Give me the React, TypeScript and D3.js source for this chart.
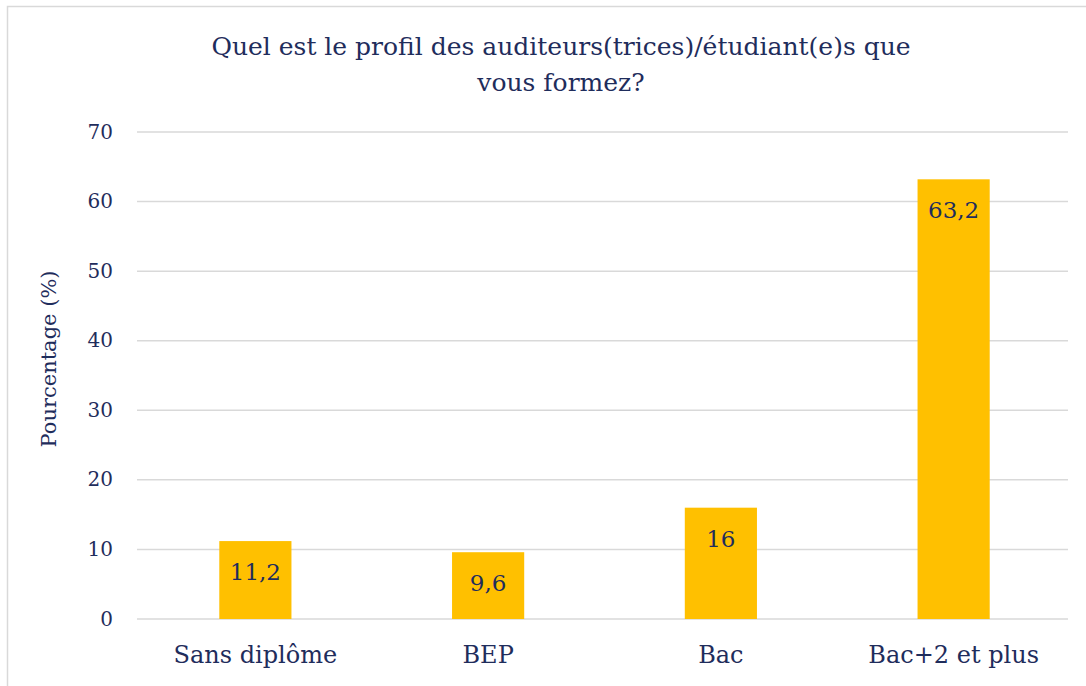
import * as d3 from "d3";
import { useEffect, useRef } from "react";

const categories = ["Sans diplôme", "BEP", "Bac", "Bac+2 et plus"];
const values = [11.2, 9.6, 16, 63.2];
const valueLabels = ["11,2", "9,6", "16", "63,2"];
const yTicks = [0, 10, 20, 30, 40, 50, 60, 70];
const titleLines = ["Quel est le profil des auditeurs(trices)/étudiant(e)s que", "vous formez?"];
const yTitle = "Pourcentage (%)";

const W = 1086, H = 686;
const FONT = "'DejaVu Serif', 'Liberation Serif', serif";
const INK = "#1f2d5c";

const App = () => {
    const ref = useRef<SVGSVGElement>(null);

    useEffect(() => {
        const svg = d3.select(ref.current);
        svg.selectAll("*").remove();

        const margin = { left: 139, right: 16, top: 132, bottom: 67 };

        const x = d3.scaleBand()
            .domain(categories)
            .range([margin.left, W - margin.right])
            .paddingInner(0.69)
            .paddingOuter(0.345);

        const y = d3.scaleLinear()
            .domain([0, 70])
            .range([H - margin.bottom, margin.top]);

        // frame
        svg.append("rect")
            .attr("x", 7.5).attr("y", 6.5)
            .attr("width", W + 10).attr("height", H + 10)
            .attr("fill", "white")
            .attr("stroke", "#d9d9d9")
            .attr("stroke-width", 1.5);

        // gridlines
        svg.append("g")
            .selectAll("line")
            .data(yTicks)
            .join("line")
            .attr("x1", 137).attr("x2", 1068)
            .attr("y1", d => y(d)).attr("y2", d => y(d))
            .attr("stroke", "#d9d9d9")
            .attr("stroke-width", 1.5);

        // y tick labels
        svg.append("g")
            .selectAll("text")
            .data(yTicks)
            .join("text")
            .attr("x", 113)
            .attr("y", d => y(d))
            .attr("dy", "0.33em")
            .attr("text-anchor", "end")
            .attr("font-family", FONT)
            .attr("font-size", 20)
            .attr("fill", INK)
            .text(d => d);

        // bars
        svg.append("g")
            .selectAll("rect")
            .data(values)
            .join("rect")
            .attr("x", (d, i) => x(categories[i]))
            .attr("y", d => y(d))
            .attr("width", x.bandwidth())
            .attr("height", d => y(0) - y(d))
            .attr("fill", "#ffc000");

        // value labels
        svg.append("g")
            .selectAll("text")
            .data(values)
            .join("text")
            .attr("x", (d, i) => x(categories[i]) + x.bandwidth() / 2)
            .attr("y", d => y(d) + 39)
            .attr("text-anchor", "middle")
            .attr("font-family", FONT)
            .attr("font-size", 23)
            .attr("fill", INK)
            .text((d, i) => valueLabels[i]);

        // category labels
        svg.append("g")
            .selectAll("text")
            .data(categories)
            .join("text")
            .attr("x", d => x(d) + x.bandwidth() / 2)
            .attr("y", 663)
            .attr("text-anchor", "middle")
            .attr("font-family", FONT)
            .attr("font-size", 24)
            .attr("fill", INK)
            .text(d => d);

        // title
        svg.append("g")
            .selectAll("text")
            .data(titleLines)
            .join("text")
            .attr("x", 561)
            .attr("y", (d, i) => 55 + i * 36)
            .attr("text-anchor", "middle")
            .attr("font-family", FONT)
            .attr("font-size", 25)
            .attr("fill", INK)
            .text(d => d);

        // y axis title
        svg.append("text")
            .attr("transform", `translate(56,359) rotate(-90)`)
            .attr("text-anchor", "middle")
            .attr("font-family", FONT)
            .attr("font-size", 21)
            .attr("fill", INK)
            .text(yTitle);
    }, []);

    return (
        <svg ref={ref} width={W} height={H}
            style={{ position: "absolute", left: 0, top: 0, background: "white" }} />
    );
};

export default App;
